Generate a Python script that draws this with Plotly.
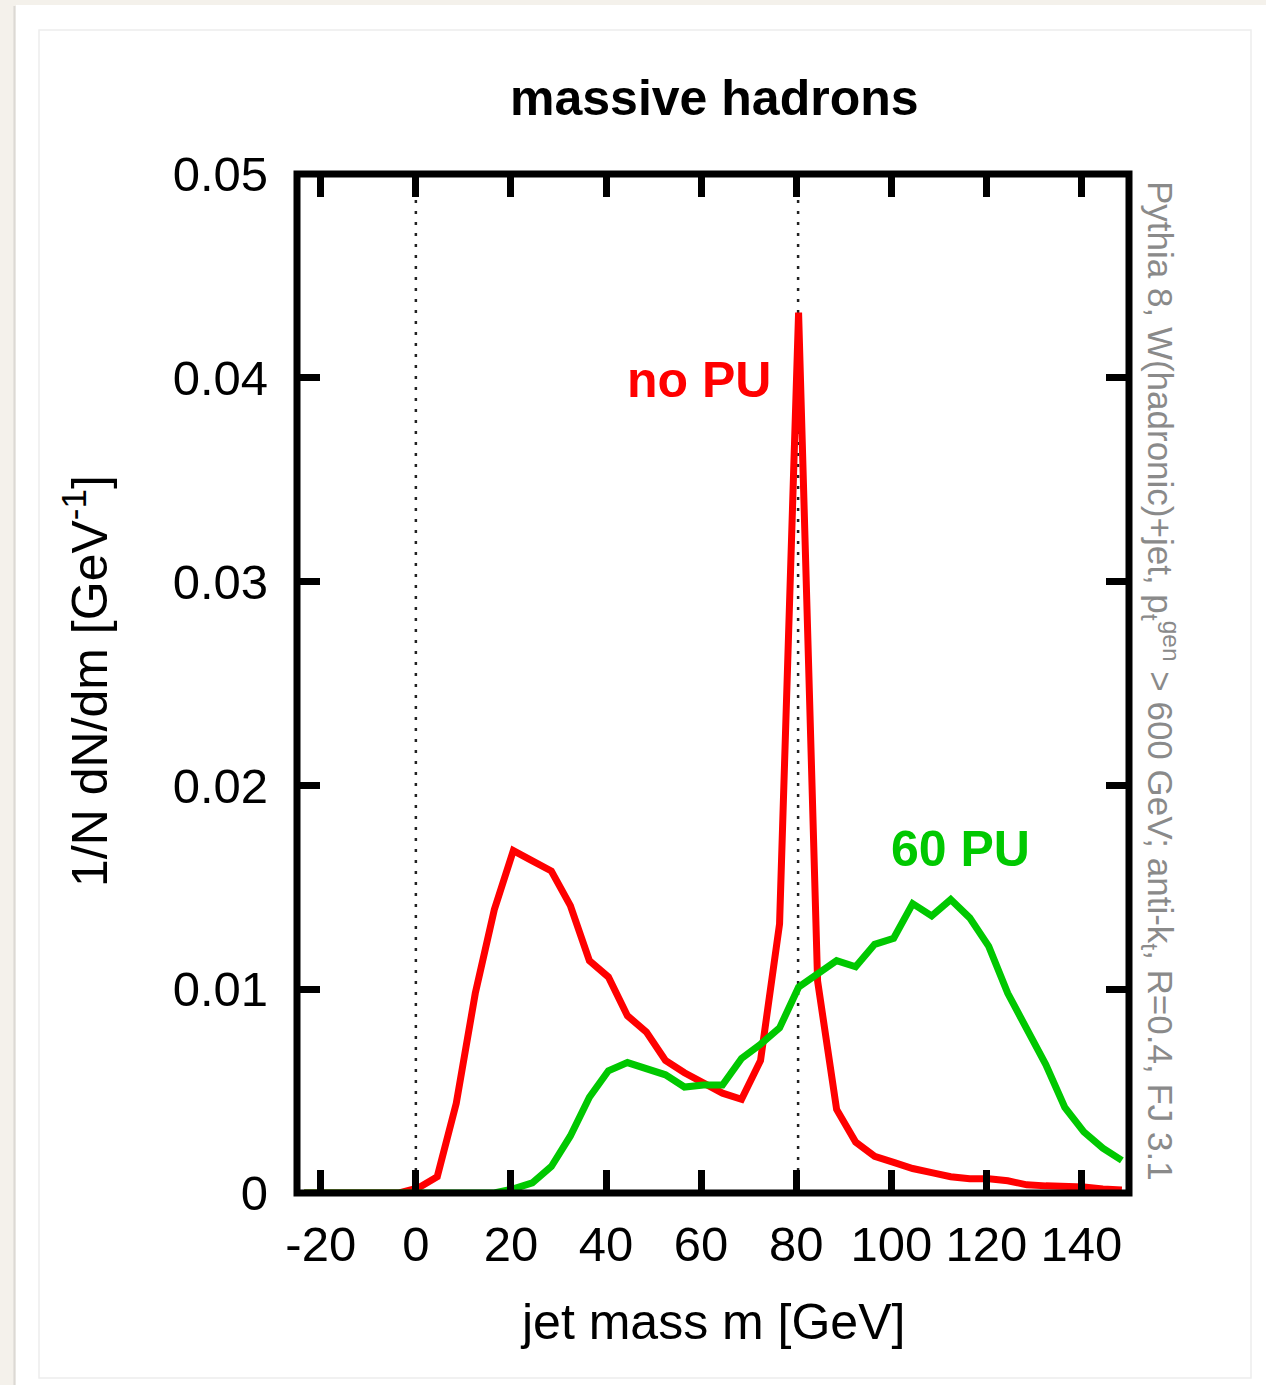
import plotly.graph_objects as go

# Jet-mass bin centres [GeV]
mass_bins = [-23.5, -19.5, -15.5, -11.5, -7.5, -3.5, 0.5, 4.5, 8.5, 12.5,
             16.5, 20.5, 24.5, 28.5, 32.5, 36.5, 40.5, 44.5, 48.5, 52.5,
             56.5, 60.5, 64.5, 68.5, 72.5, 76.5, 80.5, 84.5, 88.5, 92.5,
             96.5, 100.5, 104.5, 108.5, 112.5, 116.5, 120.5, 124.5, 128.5, 132.5,
             136.5, 140.5, 144.5, 148.5]

# 1/N dN/dm without pile-up
no_pu = [0, 0, 0, 0, 0, 0, 0.00025, 0.0008, 0.0044, 0.0098,
         0.0139, 0.0168, 0.0163, 0.0158, 0.0141, 0.0114, 0.0106, 0.0087, 0.0079, 0.0065,
         0.0059, 0.0054, 0.0049, 0.0046, 0.0065, 0.0132, 0.0432, 0.0104, 0.0041, 0.0025,
         0.0018, 0.0015, 0.0012, 0.0010, 0.0008, 0.0007, 0.0007, 0.0006, 0.0004, 0.00035,
         0.00035, 0.0003, 0.0002, 0.00015]

# 1/N dN/dm with 60 pile-up events
pu_60 = [0, 0, 0, 0, 0, 0, 0, 0, 0, 0,
         0, 0.0002, 0.0005, 0.0013, 0.0028, 0.0047, 0.0060, 0.0064, 0.0061, 0.0058,
         0.0052, 0.0053, 0.0053, 0.0066, 0.0073, 0.0081, 0.0101, 0.0107, 0.0114, 0.0111,
         0.0122, 0.0125, 0.0142, 0.0136, 0.0144, 0.0135, 0.0121, 0.0098, 0.0081, 0.0063,
         0.0042, 0.0030, 0.0022, 0.0016]

x_ticks = [-20, 0, 20, 40, 60, 80, 100, 120, 140]
x_tick_text = ["-20", "0", "20", "40", "60", "80", "100", "120", "140"]
y_ticks = [0, 0.01, 0.02, 0.03, 0.04, 0.05]
y_tick_text = ["0", "0.01", "0.02", "0.03", "0.04", "0.05"]
ref_lines = [0, 80.4]   # zero mass and W mass

W, H = 1266, 1385
ML, MR, MT, MB = 297, 137, 174, 192
PW, PH = W - ML - MR, H - MT - MB

def px(x):
    return (x - ML) / PW

def py(y):
    return (H - MB - y) / PH

RED = "#ff0000"
GREEN = "#00c800"
FONT = "Liberation Sans, Arial, Helvetica, sans-serif"

fig = go.Figure()
fig.add_trace(go.Scatter(x=mass_bins, y=no_pu, mode="lines",
                         line=dict(color=RED, width=7), showlegend=False))
fig.add_trace(go.Scatter(x=mass_bins, y=pu_60, mode="lines",
                         line=dict(color=GREEN, width=7), showlegend=False))

shapes = []
# page card and shadow
shapes.append(dict(type="rect", xref="paper", yref="paper", layer="below",
                   x0=px(16), x1=px(W + 5), y0=py(5), y1=py(H + 5),
                   fillcolor="white", line=dict(width=0)))
for i, c in enumerate(["#e6e3de", "#dcd9d4", "#e9e7e3"]):
    shapes.append(dict(type="rect", xref="paper", yref="paper", layer="below",
                       x0=px(13 + i), x1=px(14 + i), y0=py(6), y1=py(H + 5),
                       fillcolor=c, line=dict(width=0)))
shapes.append(dict(type="rect", xref="paper", yref="paper", layer="below",
                   x0=px(39), x1=px(1251), y0=py(30), y1=py(1378),
                   fillcolor="rgba(0,0,0,0)", line=dict(color="#ededed", width=1.5)))
# dotted reference lines
for xv in ref_lines:
    shapes.append(dict(type="line", xref="x", yref="y", layer="below",
                       x0=xv, x1=xv, y0=0, y1=0.05,
                       line=dict(color="#222222", width=2.5, dash="3px,8px")))
# plot frame
shapes.append(dict(type="rect", xref="x domain", yref="y domain", layer="above",
                   x0=0, x1=1, y0=0, y1=1,
                   line=dict(color="black", width=7)))

CENTER = dict(xanchor="center", yanchor="middle", showarrow=False)
annotations = [
    dict(text="<b>massive hadrons</b>", xref="paper", yref="paper",
         x=px(714), y=py(98), font=dict(size=50, color="black"), **CENTER),
    dict(text="jet mass m [GeV]", xref="paper", yref="paper",
         x=px(712), y=py(1322), font=dict(size=50, color="black"), **CENTER),
    dict(text="1/N dN/dm [GeV<sup>-1</sup>]", xref="paper", yref="paper",
         x=px(86), y=py(681), textangle=-90, font=dict(size=50, color="black"),
         **CENTER),
    dict(text="Pythia 8, W(hadronic)+jet, p<sub>t</sub><sup>gen</sup> &gt; 600 GeV; "
              "anti-k<sub>t</sub>, R=0.4, FJ 3.1",
         xref="paper", yref="paper", x=px(1161), y=py(681), textangle=90,
         font=dict(size=35, color="#8a8a8a"), **CENTER),
    dict(text="<b>no PU</b>", xref="x", yref="y", x=59.5, y=0.0399,
         font=dict(size=50, color=RED), **CENTER),
    dict(text="<b>60 PU</b>", xref="x", yref="y", x=114.6, y=0.0169,
         font=dict(size=50, color=GREEN), **CENTER),
]

fig.update_layout(
    width=W, height=H,
    margin=dict(l=ML, r=MR, t=MT, b=MB, pad=0),
    paper_bgcolor="#f4f1eb",
    plot_bgcolor="white",
    font=dict(family=FONT, color="black"),
    shapes=shapes,
    annotations=annotations,
    xaxis=dict(range=[-25, 150], tickvals=x_ticks, ticktext=x_tick_text,
               ticks="inside", ticklen=23, tickwidth=7, tickcolor="black",
               mirror="ticks", showline=False, showgrid=False, zeroline=False,
               tickfont=dict(size=49), ticklabelstandoff=18),
    yaxis=dict(range=[0, 0.05], tickvals=y_ticks, ticktext=y_tick_text,
               ticks="inside", ticklen=23, tickwidth=7, tickcolor="black",
               mirror="ticks", showline=False, showgrid=False, zeroline=False,
               tickfont=dict(size=49), ticklabelstandoff=28),
)

fig.write_html("out.html")
